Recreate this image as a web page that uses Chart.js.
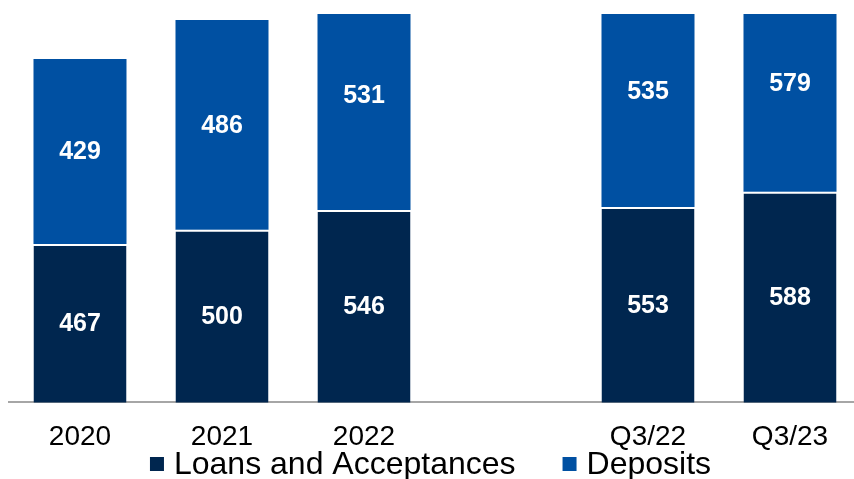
<!DOCTYPE html>
<html>
<head>
<meta charset="utf-8">
<script src="https://cdn.jsdelivr.net/npm/chart.js@4"></script>
<style>
  html, body { margin: 0; padding: 0; background: #fff; overflow: hidden; }
  #wrap { width: 861px; height: 479px; position: relative; }
</style>
</head>
<body>
<div id="wrap"><canvas id="bars"></canvas></div>
<script>
const periods  = ['2020', '2021', '2022', '', 'Q3/22', 'Q3/23'];
const loans    = [467, 500, 546, null, 553, 588];
const deposits = [429, 486, 531, null, 535, 579];

// value labels sit in the middle of each segment; tall segments are capped here
const labelCeiling = 1090;
const FONT = '"Liberation Sans", Arial, sans-serif';

const segmentLabels = {
  id: 'segmentLabels',
  afterDatasetsDraw(chart) {
    const { ctx, chartArea, scales: { y } } = chart;
    const cap = y.getPixelForValue(labelCeiling);
    ctx.save();
    ctx.fillStyle = '#fff';
    ctx.font = 'bold 25px ' + FONT;
    ctx.textAlign = 'center';
    ctx.textBaseline = 'middle';
    chart.data.datasets.forEach((ds, i) => {
      chart.getDatasetMeta(i).data.forEach((bar, j) => {
        const v = ds.data[j];
        if (v == null) return;
        const top = Math.max(bar.y, cap);
        const bottom = Math.min(bar.base, chartArea.bottom);
        ctx.fillText(String(v), bar.x, (top + bottom) / 2 + 1);
      });
    });
    ctx.restore();
  }
};

// legend row under the axis: small squares, wide gap between entries
const bottomLegend = {
  id: 'bottomLegend',
  afterDraw(chart) {
    const { ctx } = chart;
    const box = 14, gap = 10, spacing = 47;
    const baseline = chart.height - 5;
    ctx.save();
    ctx.font = '32px ' + FONT;
    const items = chart.data.datasets.map(ds => ({
      text: ds.label, color: ds.backgroundColor, w: ctx.measureText(ds.label).width
    }));
    const total = items.reduce((s, it) => s + box + gap + it.w, 0) + spacing * (items.length - 1);
    let x = (chart.width - total) / 2;
    ctx.textBaseline = 'alphabetic';
    items.forEach(it => {
      ctx.fillStyle = it.color;
      ctx.fillRect(x, baseline - 17, box, box);
      ctx.fillStyle = '#000';
      ctx.fillText(it.text, x + box + gap, baseline);
      x += box + gap + it.w + spacing;
    });
    ctx.restore();
  }
};

new Chart(document.getElementById('bars'), {
  type: 'bar',
  data: {
    labels: periods,
    datasets: [
      {
        label: 'Loans and Acceptances', data: loans,
        backgroundColor: '#00264f', borderColor: '#ffffff',
        borderWidth: { top: 2, left: 0, right: 0, bottom: 0 }, borderSkipped: false
      },
      {
        label: 'Deposits', data: deposits,
        backgroundColor: '#0050a2', borderWidth: 0
      }
    ]
  },
  options: {
    responsive: true, maintainAspectRatio: false, animation: false,
    layout: { padding: { top: 14, left: 9, right: 0, bottom: 15 } },
    datasets: { bar: { barPercentage: 0.655, categoryPercentage: 1 } },
    scales: {
      x: {
        stacked: true,
        grid: { display: false },
        border: { color: '#a6a6a6', width: 2 },
        ticks: { color: '#000', padding: 10, font: { family: FONT, size: 28 } }
      },
      y: { stacked: true, display: false, min: 100, max: 1000 }
    },
    plugins: {
      tooltip: { enabled: false },
      legend: { display: false }
    }
  },
  plugins: [segmentLabels, bottomLegend]
});
</script>
</body>
</html>
